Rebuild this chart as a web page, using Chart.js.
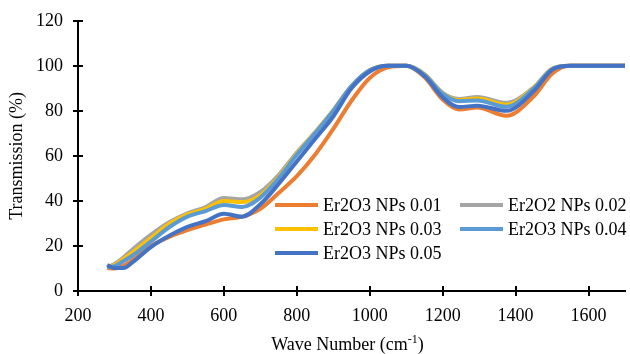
<!DOCTYPE html>
<html>
<head>
<meta charset="utf-8">
<script src="https://cdn.jsdelivr.net/npm/chart.js@4/dist/chart.umd.min.js"></script>
<style>
  html, body { margin: 0; padding: 0; background: #fff; }
  #wrap { width: 630px; height: 354px; }
</style>
</head>
<body>
<div id="wrap"><canvas id="myChart" width="630" height="354"></canvas></div>
<script>
// wave numbers (cm-1) shared by every series
const waveNumbers = [280, 300, 325, 350, 400, 450, 500, 550, 600, 650, 700, 750, 800, 850, 900, 950, 1000, 1050, 1100, 1150, 1200, 1245, 1295, 1375, 1450, 1500, 1550, 1600, 1650, 1700];

const np001 = [10.2, 10.0, 11.2, 13.8, 20.0, 24.0, 27.0, 29.5, 31.8, 33.0, 36.5, 43.5, 51.0, 60.5, 72.0, 84.5, 94.6, 99.3, 100, 95.0, 85.0, 80.6, 81.5, 77.8, 86.5, 96.5, 100, 100, 100, 100];
const np002 = [10.5, 12.0, 15.0, 18.5, 25.0, 30.5, 34.5, 37.3, 41.3, 40.7, 44.0, 51.5, 61.5, 70.5, 80.3, 91.0, 98.0, 100, 100, 96.3, 88.0, 85.3, 86.2, 83.6, 90.5, 98.7, 100, 100, 100, 100];
const np003 = [10.5, 11.5, 14.3, 17.2, 23.5, 29.8, 34.0, 36.5, 40.0, 39.5, 42.5, 50.5, 61.0, 70.3, 80.2, 91.0, 98.0, 100, 100, 96.2, 87.7, 84.8, 85.5, 82.7, 90.3, 98.6, 100, 100, 100, 100];
const np004 = [10.5, 11.0, 13.3, 15.8, 22.0, 28.3, 33.0, 35.5, 38.2, 37.3, 41.5, 50.0, 60.5, 70.0, 80.0, 91.0, 98.0, 100, 100, 96.0, 87.5, 84.3, 84.6, 81.8, 90.0, 98.5, 100, 100, 100, 100];
const np005 = [11.5, 10.2, 10.2, 12.8, 19.5, 24.5, 28.5, 31.0, 34.3, 33.0, 38.5, 47.5, 57.5, 67.5, 77.5, 90.0, 97.5, 100, 100, 95.5, 86.0, 81.7, 82.3, 80.0, 88.8, 98.2, 100, 100, 100, 100];

const seriesNames = ['Er2O3 NPs 0.01', 'Er2O2 NPs 0.02', 'Er2O3 NPs 0.03', 'Er2O3 NPs 0.04', 'Er2O3 NPs 0.05'];
const seriesColors = ['#ED7D31', '#A5A5A5', '#FFC000', '#5B9BD5', '#4472C4'];
const seriesValues = [np001, np002, np003, np004, np005];

const xTicks = [200, 400, 600, 800, 1000, 1200, 1400, 1600];
const yTicks = [0, 20, 40, 60, 80, 100, 120];

const fontFamily = '"Liberation Serif", "Times New Roman", serif';
const fontSize = 18;

// son seri en üstte çizilsin diye order'ı ters verdik
const datasets = seriesValues.map((vals, i) => ({
    label: seriesNames[i],
    data: vals.map((v, j) => ({ x: waveNumbers[j], y: v })),
    borderColor: seriesColors[i],
    backgroundColor: seriesColors[i],
    borderWidth: 4,
    pointRadius: 0,
    fill: false,
    order: seriesValues.length - i,
    cubicInterpolationMode: 'monotone'
}));

// kendi lejantımız ve eksen başlıkları, iç tik çizgileri
const extras = {
    id: 'extras',
    afterDraw(chart) {
        const ctx = chart.ctx;
        const xs = chart.scales.x;
        const ys = chart.scales.y;
        const area = chart.chartArea;
        ctx.save();

        // inner tick marks
        ctx.strokeStyle = '#000';
        ctx.lineWidth = 2;
        ctx.beginPath();
        xTicks.forEach(v => {
            const px = Math.round(xs.getPixelForValue(v));
            ctx.moveTo(px, area.bottom);
            ctx.lineTo(px, area.bottom - 5);
        });
        yTicks.forEach(v => {
            const py = Math.round(ys.getPixelForValue(v));
            ctx.moveTo(area.left, py);
            ctx.lineTo(area.left + 5, py);
        });
        ctx.stroke();

        // legend
        ctx.font = fontSize + 'px ' + fontFamily;
        ctx.textBaseline = 'middle';
        ctx.textAlign = 'left';
        const cols = [275, 460];
        const rows = [205, 229, 253];
        seriesNames.forEach((name, i) => {
            const cx = cols[i % 2];
            const cy = rows[Math.floor(i / 2)];
            ctx.strokeStyle = seriesColors[i];
            ctx.lineWidth = 4;
            ctx.beginPath();
            ctx.moveTo(cx, cy);
            ctx.lineTo(cx + 43, cy);
            ctx.stroke();
            ctx.fillStyle = '#000';
            ctx.fillText(name, cx + 48, cy + 1);
        });

        // x axis title with superscript
        ctx.fillStyle = '#000';
        ctx.textBaseline = 'alphabetic';
        ctx.font = fontSize + 'px ' + fontFamily;
        const t1 = 'Wave Number (cm';
        const t2 = '-1';
        const t3 = ')';
        const w1 = ctx.measureText(t1).width;
        const w3 = ctx.measureText(t3).width;
        ctx.font = '12px ' + fontFamily;
        const w2 = ctx.measureText(t2).width;
        const startX = (area.left + area.right) / 2 - (w1 + w2 + w3) / 2 - 4;
        const baseY = 350;
        ctx.font = fontSize + 'px ' + fontFamily;
        ctx.fillText(t1, startX, baseY);
        ctx.font = '12px ' + fontFamily;
        ctx.fillText(t2, startX + w1, baseY - 7);
        ctx.font = fontSize + 'px ' + fontFamily;
        ctx.fillText(t3, startX + w1 + w2, baseY);

        // y axis title
        ctx.translate(17, (area.top + area.bottom) / 2);
        ctx.rotate(-Math.PI / 2);
        ctx.textAlign = 'center';
        ctx.textBaseline = 'middle';
        ctx.fillText('Transmission (%)', 0, 0);
        ctx.restore();
    }
};

const ctx = document.getElementById('myChart').getContext('2d');
const chart = new Chart(ctx, {
    type: 'line',
    data: { datasets: datasets },
    options: {
        responsive: false,
        animation: false,
        layout: { padding: { top: 17, right: 5, left: 0, bottom: 0 } },
        plugins: {
            legend: { display: false },
            tooltip: { enabled: false }
        },
        scales: {
            x: {
                type: 'linear',
                min: 200,
                max: 1700,
                afterBuildTicks: s => { s.ticks = xTicks.map(v => ({ value: v })); },
                afterFit: s => { s.height = 63; },
                border: { color: '#000', width: 2 },
                grid: { drawOnChartArea: false, drawTicks: true, tickLength: 5, color: '#000', lineWidth: 2 },
                ticks: { color: '#000', font: { family: fontFamily, size: fontSize }, padding: 9, maxRotation: 0, callback: v => String(v) }
            },
            y: {
                type: 'linear',
                min: 0,
                max: 120,
                afterBuildTicks: s => { s.ticks = yTicks.map(v => ({ value: v })); },
                afterFit: s => { s.width = 78; },
                border: { color: '#000', width: 2 },
                grid: { drawOnChartArea: false, drawTicks: true, tickLength: 5, color: '#000', lineWidth: 2 },
                ticks: { color: '#000', font: { family: fontFamily, size: fontSize }, padding: 10, callback: v => String(v) }
            }
        }
    },
    plugins: [extras]
});
</script>
</body>
</html>
